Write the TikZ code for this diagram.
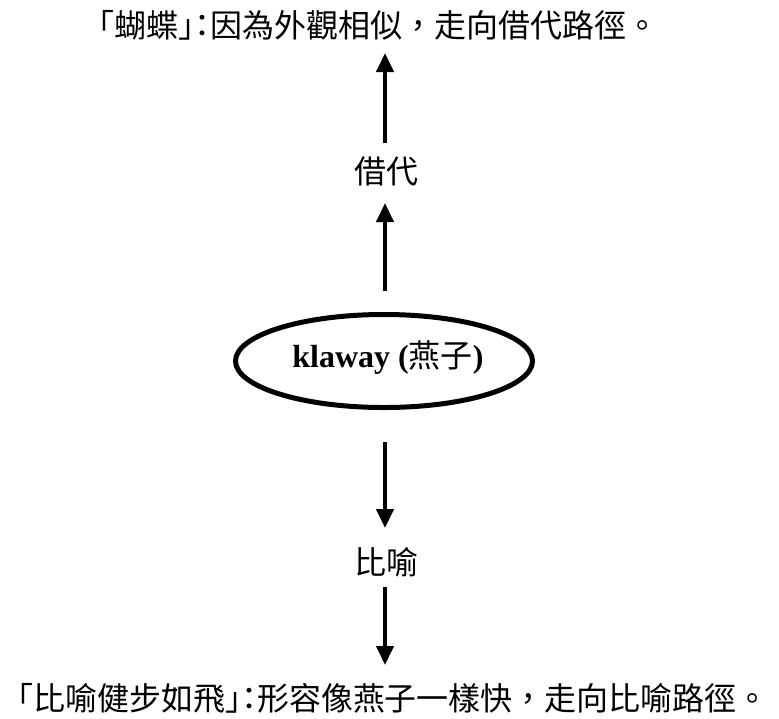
\documentclass[tikz,border=0pt]{standalone}
\usepackage{fontspec}
\setmainfont{Liberation Serif}
\newfontfamily\cjk{Noto Sans CJK TC}
\newfontfamily\cjkh[RawFeature=+halt]{Noto Sans CJK TC}
\usetikzlibrary{arrows.meta,shapes.geometric}
\begin{document}
\begin{tikzpicture}[x=1pt,y=-1pt,
  lbl/.style={inner sep=0pt,font=\cjk\fontsize{32}{36}\selectfont},
  arr/.style={line width=4.2pt,-{Triangle[length=19pt,width=17pt]}},
  oval/.style={ellipse,draw,line width=5pt,minimum width=297pt,minimum height=93pt,inner sep=0pt}]
\useasboundingbox (0,0) rectangle (779,718);
\node[lbl] (top) at (378,25) {{\cjkh 「}蝴蝶{\cjkh 」：}因為外觀相似，走向借代路徑。};
\node[lbl] (jd) at (386,171) {借代};
\node[oval] (e) at (384,361) {};
\node[inner sep=0pt,font=\fontsize{32}{36}\selectfont] (t) at (388,358) {\textbf{klaway (}{\cjk 燕子}\textbf{)}};
\node[lbl] (by) at (386,562) {比喻};
\node[lbl] (bot) at (393,698) {{\cjkh 「}比喻健步如飛{\cjkh 」：}形容像燕子一樣快，走向比喻路徑。};
\coordinate (a1s) at (385,143);
\coordinate (a1e) at (385,53);
\coordinate (a2s) at (385,291);
\coordinate (a2e) at (385,203);
\coordinate (a3s) at (385,442);
\coordinate (a3e) at (385,528);
\coordinate (a4s) at (385,587);
\coordinate (a4e) at (385,665);
\draw[arr] (a1s) -- (a1e);
\draw[arr] (a2s) -- (a2e);
\draw[arr] (a3s) -- (a3e);
\draw[arr] (a4s) -- (a4e);
\end{tikzpicture}
\end{document}
